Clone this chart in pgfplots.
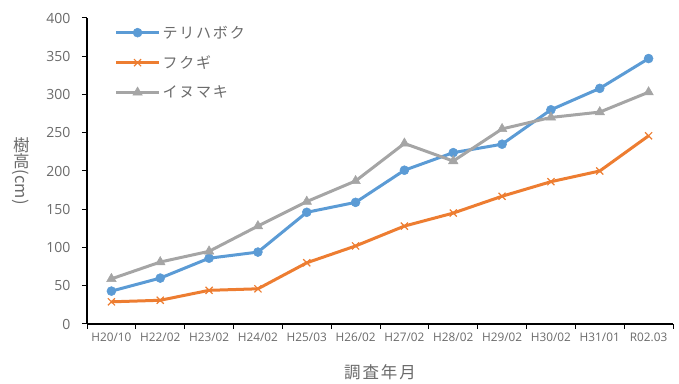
\documentclass[border=0pt]{standalone}
\usepackage{fontspec}
\setmainfont{Open Sans}
\newfontfamily\jp[LetterSpace=12]{Noto Sans CJK JP}
\newfontfamily\jpn{Noto Sans CJK JP}
\usepackage{graphicx}
\usepackage{pgfplots}
\pgfplotsset{compat=1.18}
\definecolor{cblue}{HTML}{5B9BD5}
\definecolor{corange}{HTML}{ED7D31}
\definecolor{cgray}{HTML}{A5A5A5}
\definecolor{ctext}{HTML}{6A6A6A}
\begin{document}
\begin{tikzpicture}
\begin{axis}[
  scale only axis,
  width=586bp, height=306bp,
  xmin=-0.5, xmax=11.5,
  ymin=0, ymax=400,
  ytick={0,50,...,400},
  xtick={0,...,11},
  xticklabels={H20/10,H22/02,H23/02,H24/02,H25/03,H26/02,H27/02,H28/02,H29/02,H30/02,H31/01,R02.03},
  minor xtick={-0.5,0.5,...,11.5},
  major x tick style={draw=none},
  minor x tick style={black, line width=1pt},
  minor tick length=5bp,
  y tick style={black, line width=1pt},
  major tick length=5bp,
  tick align=outside,
  axis x line*=bottom,
  axis y line*=left,
  axis line style={-, black, line width=1.2pt},
  /pgf/number format/assume math mode=true,
  yticklabel style={font=\fontsize{14bp}{16bp}\selectfont, text=ctext, xshift=-8bp},
  xticklabel style={font=\fontsize{11.8bp}{13bp}\selectfont, text=ctext, yshift=0bp},
  xlabel={\jp 調査年月},
  xlabel style={at={(axis description cs:0.5,-0.157)}, anchor=center, font=\fontsize{16.5bp}{18bp}\selectfont, text=ctext},
  ylabel={\jp\rotatebox[origin=c]{90}{樹}\kern1bp\rotatebox[origin=c]{90}{高}\kern1bp{\jpn (cm)}},
  ylabel style={at={(axis description cs:-0.113,0.5)}, anchor=center, rotate=180, font=\fontsize{16.5bp}{18bp}\selectfont, text=ctext},
  legend style={at={(axis description cs:0.045,0.985)}, anchor=north west, draw=none, fill=none,
    font=\jp\fontsize{15bp}{17bp}\selectfont, text=ctext, row sep=12bp, inner sep=1bp},
  legend cell align=left,
  legend image code/.code={\draw[mark repeat=2,mark phase=2] plot coordinates {(0bp,0bp) (21.5bp,0bp) (43bp,0bp)};},
  every axis plot/.append style={line width=3bp},
  clip=false,
]
\addplot[color=cblue, mark=*, mark size=4.5bp, mark options={solid, line width=0.5bp}] coordinates {
 (0,43) (1,60) (2,86) (3,94) (4,146) (5,159) (6,201) (7,224) (8,235) (9,280) (10,308) (11,347)};
\addlegendentry{テリハボク}
\addplot[color=corange, mark=x, mark size=5bp, mark options={solid, line width=1.2bp}] coordinates {
 (0,29) (1,31) (2,44) (3,46) (4,80) (5,102) (6,128) (7,145) (8,167) (9,186) (10,200) (11,246)};
\addlegendentry{フクギ}
\addplot[color=cgray, mark=triangle*, mark size=5.5bp, mark options={solid, line width=0.5bp}] coordinates {
 (0,59) (1,81) (2,95) (3,128) (4,160) (5,187) (6,236) (7,213) (8,255) (9,270) (10,277) (11,303)};
\addlegendentry{イヌマキ}
\end{axis}
\path (current axis.south west) ++(-87bp,-58bp) rectangle ++(679bp,382bp);
\end{tikzpicture}
\end{document}
